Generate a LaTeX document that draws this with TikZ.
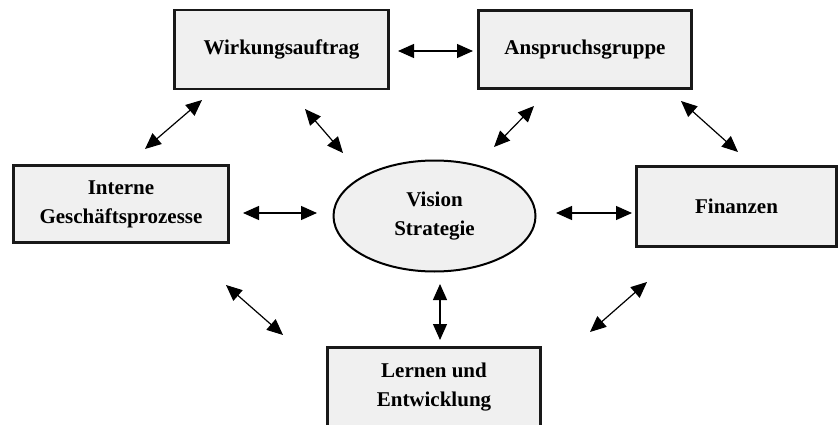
\documentclass[tikz,border=0pt]{standalone}
\usepackage{fontspec}
\setmainfont{Liberation Serif}
\usetikzlibrary{arrows.meta,shapes.geometric}

\tikzset{
  labeltext/.style={font=\fontsize{21}{29}\selectfont\bfseries, align=center, text=black},
  panel/.style={labeltext, draw=black!90, line width=2.5pt, fill=black!6, rectangle, inner sep=0pt},
  core/.style={labeltext, draw=black, line width=2pt, fill=black!6, ellipse, inner sep=0pt},
  twoway/.style={{Triangle[length=16pt,width=14pt]}-{Triangle[length=16pt,width=14pt]}, line width=1.2pt, black}
}

\begin{document}
\begin{tikzpicture}[x=1pt,y=-1pt]
  \useasboundingbox (0,0) rectangle (840,425);

  % perspective boxes
  \node[panel, minimum width=214pt, minimum height=79pt] (wirk) at (281.5,49.5) {Wirkungsauftrag};
  \node[panel, minimum width=213pt, minimum height=78pt] (ansp) at (585,49.5) {Anspruchsgruppe};
  \node[panel, minimum width=215pt, minimum height=77pt] (intern) at (121,204) {Interne\\Geschäftsprozesse};
  \node[panel, minimum width=200pt, minimum height=80pt] (fin) at (736.5,206.5) {Finanzen};
  \node[panel, minimum width=213pt, minimum height=79pt] (lern) at (434,387) {Lernen und\\Entwicklung};

  % central ellipse
  \node[core, minimum width=202pt, minimum height=111pt] (vision) at (434.5,216) {Vision\\Strategie};

  % end points of the double arrows
  \coordinate (wa1) at (398,51);   \coordinate (wa2) at (473,51);
  \coordinate (iv1) at (243,213);  \coordinate (iv2) at (317,213);
  \coordinate (vf1) at (556,213);  \coordinate (vf2) at (632,213);
  \coordinate (vl1) at (440,284);  \coordinate (vl2) at (440,340);
  \coordinate (wi1) at (145,149);  \coordinate (wi2) at (202,100);
  \coordinate (wv1) at (305,109);  \coordinate (wv2) at (343,153);
  \coordinate (av1) at (494,147);  \coordinate (av2) at (534,106);
  \coordinate (af1) at (681,101);  \coordinate (af2) at (738,152);
  \coordinate (il1) at (226,285);  \coordinate (il2) at (283,335);
  \coordinate (fl1) at (590,332);  \coordinate (fl2) at (647,282);

  \draw[twoway] (wa1) -- (wa2);
  \draw[twoway] (iv1) -- (iv2);
  \draw[twoway] (vf1) -- (vf2);
  \draw[twoway] (vl1) -- (vl2);
  \draw[twoway] (wi1) -- (wi2);
  \draw[twoway] (wv1) -- (wv2);
  \draw[twoway] (av1) -- (av2);
  \draw[twoway] (af1) -- (af2);
  \draw[twoway] (il1) -- (il2);
  \draw[twoway] (fl1) -- (fl2);
\end{tikzpicture}
\end{document}
